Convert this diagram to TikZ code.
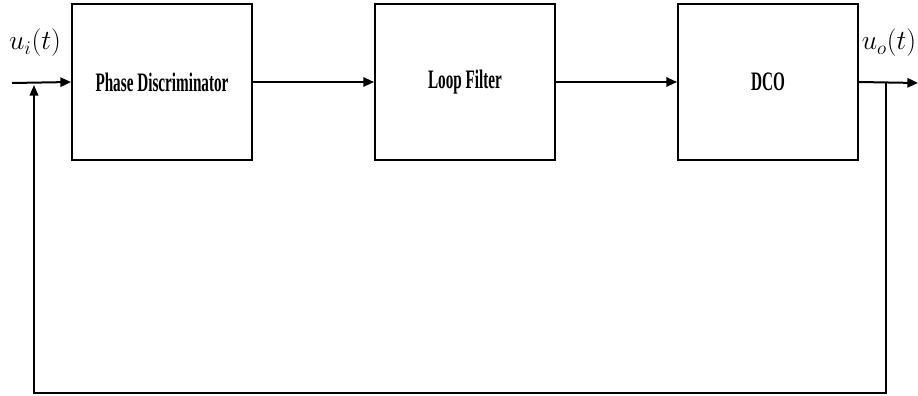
\documentclass[tikz,border=0pt]{standalone}
\usepackage{fontspec}
\setmainfont{Liberation Serif}
\usetikzlibrary{arrows.meta}
\tikzset{
  blk/.style={draw, line width=1.5pt, minimum width=135pt, minimum height=117pt, inner sep=0pt},
  blktext/.style={font=\bfseries\fontsize{20}{22}\selectfont},
  sig/.style={line width=1.5pt, -{Triangle[length=8pt,width=7pt]}},
  fb/.style={line width=1.1pt},
  lbl/.style={font=\fontsize{22}{24}\selectfont}
}
\newcommand{\cond}[1]{\scalebox{0.57}[1]{#1}}
\begin{document}
\begin{tikzpicture}[x=0.75pt,y=-0.75pt]
  \useasboundingbox (0,0) rectangle (918,396);
  % blocks of the loop
  \node[blk] (pd)  at (162,82) {};
  \node[blk] (lf)  at (465,82) {};
  \node[blk] (dco) at (768,82) {};
  \node[blktext] at (pd)  {\cond{Phase Discriminator}};
  \node[blktext] at (lf)  {\cond{Loop Filter}};
  \node[blktext] at (dco) {\cond{DCO}};
  % signal ends and corners
  \coordinate (in)  at (12,83);
  \coordinate (out) at (918,83);
  \coordinate (tap) at (886,83);
  \coordinate (br)  at (886,393);
  \coordinate (bl)  at (34,393);
  \coordinate (jn)  at (34,85);
  % forward path
  \draw[sig] (in) -- (pd.west);
  \draw[sig] (pd.east) -- (lf.west);
  \draw[sig] (lf.east) -- (dco.west);
  \draw[sig] (dco.east) -- (out);
  % feedback path
  \draw[fb] (tap) -- (br) -- (bl) -- ([yshift=-6pt]jn);
  \draw[fb, -{Triangle[length=8pt,width=6.5pt]}] (bl) -- (jn);
  % signal labels
  \node[lbl] (ui) at (35,43) {$u_i(t)$};
  \node[lbl] (uo) at (889,43) {$u_o(t)$};
\end{tikzpicture}
\end{document}
